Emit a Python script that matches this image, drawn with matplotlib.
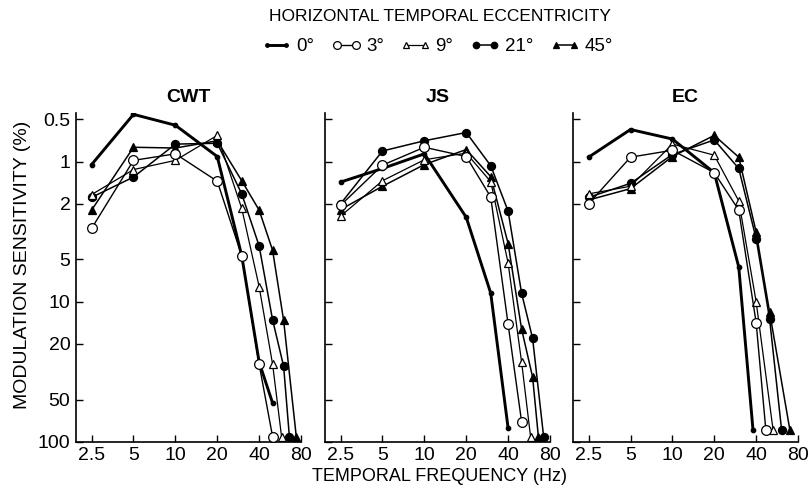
import matplotlib.pyplot as plt
from matplotlib.lines import Line2D
from matplotlib.ticker import FixedLocator, NullLocator

plt.rcParams['font.family'] = ['Liberation Sans', 'DejaVu Sans']

ECCENTRICITIES = ['0°', '3°', '9°', '21°', '45°']
SUBJECTS = ['CWT', 'JS', 'EC']

X_TICKS = [2.5, 5, 10, 20, 40, 80]
X_TICK_LABELS = ['2.5', '5', '10', '20', '40', '80']
Y_TICKS = [0.5, 1, 2, 5, 10, 20, 50, 100]
Y_TICK_LABELS = ['0.5', '1', '2', '5', '10', '20', '50', '100']

# --- subject CWT ---
cwt_hz_0 = [2.5, 5, 10, 20, 30, 40, 50]
cwt_sens_0 = [1.05, 0.46, 0.55, 0.92, 4.7, 27, 53]
cwt_hz_3 = [2.5, 5, 10, 20, 30, 40, 50]
cwt_sens_3 = [3.0, 0.98, 0.88, 1.38, 4.7, 28, 92]
cwt_hz_9 = [2.5, 5, 10, 20, 30, 40, 50, 58]
cwt_sens_9 = [1.72, 1.14, 0.98, 0.65, 2.16, 7.8, 28, 92]
cwt_hz_21 = [2.5, 5, 10, 20, 30, 40, 50, 60, 66]
cwt_sens_21 = [1.8, 1.29, 0.75, 0.74, 1.7, 4.0, 13.5, 28.9, 92]
cwt_hz_45 = [2.5, 5, 10, 20, 30, 40, 50, 60, 74]
cwt_sens_45 = [2.22, 0.79, 0.80, 0.71, 1.37, 2.22, 4.3, 13.6, 92]

# --- subject JS ---
js_hz_0 = [2.5, 5, 10, 20, 30, 40]
js_sens_0 = [1.4, 1.12, 0.88, 2.5, 8.7, 80]
js_hz_3 = [2.5, 5, 10, 20, 30, 40, 50]
js_sens_3 = [2.05, 1.06, 0.79, 0.92, 1.79, 14.5, 72]
js_hz_9 = [2.5, 5, 10, 20, 30, 40, 50, 58]
js_sens_9 = [2.45, 1.37, 0.97, 0.87, 1.39, 5.3, 27, 92]
js_hz_21 = [2.5, 5, 10, 20, 30, 40, 50, 60, 72]
js_sens_21 = [2.0, 0.84, 0.71, 0.62, 1.07, 2.26, 8.7, 18.3, 92]
js_hz_45 = [2.5, 5, 10, 20, 30, 40, 50, 60, 66]
js_sens_45 = [2.2, 1.5, 1.05, 0.82, 1.28, 3.85, 15.7, 34.6, 92]

# --- subject EC ---
ec_hz_0 = [2.5, 5, 10, 20, 30, 38]
ec_sens_0 = [0.93, 0.59, 0.69, 1.2, 5.66, 83]
ec_hz_3 = [2.5, 5, 10, 20, 30, 40, 47]
ec_sens_3 = [2.0, 0.93, 0.83, 1.2, 2.22, 14.1, 83]
ec_hz_9 = [2.5, 5, 10, 20, 30, 40, 53]
ec_sens_9 = [1.7, 1.5, 0.75, 0.9, 1.91, 10.0, 83]
ec_hz_21 = [2.5, 5, 10, 20, 30, 40, 50, 61]
ec_sens_21 = [1.8, 1.43, 0.89, 0.70, 1.12, 3.55, 13.3, 83]
ec_hz_45 = [2.5, 5, 10, 20, 30, 40, 50, 70]
ec_sens_45 = [1.88, 1.56, 0.92, 0.65, 0.93, 3.18, 11.9, 83]

panel_data = {
    'CWT': [(cwt_hz_0, cwt_sens_0), (cwt_hz_3, cwt_sens_3), (cwt_hz_9, cwt_sens_9),
            (cwt_hz_21, cwt_sens_21), (cwt_hz_45, cwt_sens_45)],
    'JS': [(js_hz_0, js_sens_0), (js_hz_3, js_sens_3), (js_hz_9, js_sens_9),
           (js_hz_21, js_sens_21), (js_hz_45, js_sens_45)],
    'EC': [(ec_hz_0, ec_sens_0), (ec_hz_3, ec_sens_3), (ec_hz_9, ec_sens_9),
           (ec_hz_21, ec_sens_21), (ec_hz_45, ec_sens_45)],
}

# marker / line style for each eccentricity
styles = [
    dict(marker='o', ms=3.2, mfc='black', lw=2.1, zorder=3),
    dict(marker='o', ms=7.0, mfc='white', lw=1.0, zorder=5),
    dict(marker='^', ms=5.5, mfc='white', lw=0.9, zorder=4),
    dict(marker='o', ms=5.8, mfc='black', lw=1.1, zorder=3),
    dict(marker='^', ms=5.8, mfc='black', lw=1.1, zorder=3),
]

fig = plt.figure(figsize=(8.1, 4.91), dpi=100)
lefts = [0.0938, 0.4012, 0.7074]

for i, subj in enumerate(SUBJECTS):
    ax = fig.add_axes([lefts[i], 0.1004, 0.2778, 0.6694])
    for (hz, sens), st in zip(panel_data[subj], styles):
        ax.plot(hz, sens, color='black', mec='black', mew=0.9, **st)
    ax.set_xscale('log')
    ax.set_yscale('log')
    ax.set_xlim(1.93, 80)
    ax.set_ylim(100, 0.45)
    ax.xaxis.set_major_locator(FixedLocator(X_TICKS))
    ax.xaxis.set_minor_locator(NullLocator())
    ax.yaxis.set_major_locator(FixedLocator(Y_TICKS))
    ax.yaxis.set_minor_locator(NullLocator())
    ax.set_xticklabels(X_TICK_LABELS)
    if i == 0:
        ax.set_yticklabels(Y_TICK_LABELS)
    else:
        ax.set_yticklabels([])
    ax.tick_params(direction='in', length=5, width=1.0, labelsize=14, pad=4)
    for side in ['top', 'right']:
        ax.spines[side].set_visible(False)
    for side in ['left', 'bottom']:
        ax.spines[side].set_linewidth(1.2)
    ax.set_title(subj, fontsize=14, fontweight='bold', pad=8)

fig.text(0.028, 0.46, 'MODULATION SENSITIVITY (%)', rotation=90,
         ha='center', va='center', fontsize=14)
fig.text(0.543, 0.03, 'TEMPORAL FREQUENCY (Hz)', ha='center', va='center', fontsize=13)
fig.text(0.543, 0.967, 'HORIZONTAL TEMPORAL ECCENTRICITY', ha='center', va='center',
         fontsize=12.5)

handles = [Line2D([], [], color='black', mec='black', mew=0.9,
                  **{k: v for k, v in st.items() if k != 'zorder'})
           for st in styles]
fig.legend(handles, ECCENTRICITIES, loc='center', bbox_to_anchor=(0.54, 0.905),
           ncol=5, frameon=False, fontsize=13.5, handlelength=1.6, handletextpad=0.25,
           columnspacing=0.9, numpoints=2, borderpad=0, markerscale=0.8)

fig.savefig('out.png', dpi=100)
